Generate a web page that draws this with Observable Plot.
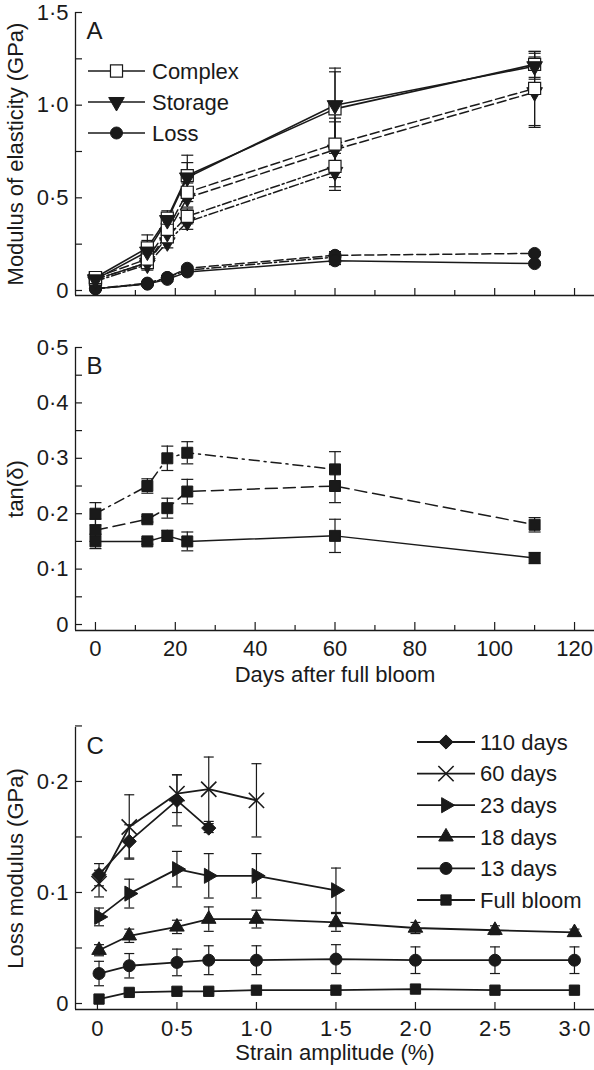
<!DOCTYPE html>
<html><head><meta charset="utf-8">
<script src="https://cdn.jsdelivr.net/npm/d3@7"></script>
<script src="https://cdn.jsdelivr.net/npm/@observablehq/plot@0.6"></script>
<style>
body{margin:0;background:#fff}
#chart{width:594px}
#chart svg{display:block}
</style>
</head><body><div id="chart"></div>
<script>
// ---------------- DATA ----------------
// Panel A – modulus of elasticity (GPa) vs days after full bloom
const daysA = [0, 13, 18, 23, 60, 110];
const daysA3 = [0, 13, 18, 23, 60];
const complex1 = [0.07, 0.23, 0.39, 0.62, 0.98, 1.22];
const complex1Err = [0.01, 0.07, 0.04, 0.11, 0.20, 0.07];
const storage1 = [0.06, 0.21, 0.38, 0.61, 1.00, 1.21];
const storage1Err = [0.01, 0.06, 0.03, 0.08, 0.20, 0.07];
const loss1 = [0.01, 0.035, 0.06, 0.10, 0.16, 0.145];
const loss1Err = [0.005, 0.005, 0.01, 0.01, 0.02, 0.01];
const complex2 = [0.07, 0.17, 0.33, 0.53, 0.79, 1.09];
const complex2Err = [0.01, 0.04, 0.04, 0.05, 0.14, 0.20];
const storage2 = [0.06, 0.15, 0.31, 0.50, 0.76, 1.07];
const storage2Err = [0.01, 0.03, 0.04, 0.05, 0.15, 0.19];
const loss2 = [0.01, 0.04, 0.07, 0.12, 0.19, 0.20];
const loss2Err = [0.005, 0.005, 0.01, 0.01, 0.02, 0.01];
const complex3 = [0.06, 0.15, 0.29, 0.40, 0.67];
const complex3Err = [0.01, 0.03, 0.03, 0.04, 0.11];
const storage3 = [0.05, 0.14, 0.26, 0.37, 0.64];
const storage3Err = [0.01, 0.03, 0.03, 0.04, 0.10];
const loss3 = [0.01, 0.035, 0.07, 0.11, 0.18];
const loss3Err = [0.005, 0.005, 0.01, 0.01, 0.02];
const legendA = ["Complex", "Storage", "Loss"];

// Panel B – tan(delta)
const tanSolid = [0.15, 0.15, 0.16, 0.15, 0.16, 0.12];
const tanSolidErr = [0.013, 0.005, 0.01, 0.017, 0.03, 0.01];
const tanDashed = [0.17, 0.19, 0.21, 0.24, 0.25, 0.18];
const tanDashedErr = [0.02, 0.005, 0.018, 0.022, 0.03, 0.013];
const tanDashDot = [0.20, 0.25, 0.30, 0.31, 0.28];
const tanDashDotErr = [0.02, 0.013, 0.022, 0.02, 0.032];

// Panel C – loss modulus (GPa) vs strain amplitude (%)
const strain = [0.01, 0.2, 0.5, 0.7, 1.0, 1.5, 2.0, 2.5, 3.0];
const legendC = ["110 days", "60 days", "23 days", "18 days", "13 days", "Full bloom"];
const loss110 = [0.116, 0.146, 0.183, 0.158];
const loss110Err = [0.01, 0.015, 0.023, 0.004];
const loss60 = [0.108, 0.159, 0.189, 0.193, 0.183];
const loss60Err = [0.012, 0.029, 0.017, 0.029, 0.033];
const loss23 = [0.078, 0.099, 0.121, 0.115, 0.115, 0.102];
const loss23Err = [0.008, 0.013, 0.016, 0.02, 0.02, 0.02];
const loss18 = [0.048, 0.061, 0.069, 0.076, 0.076, 0.073, 0.068, 0.066, 0.064];
const loss18Err = [0.005, 0.006, 0.006, 0.011, 0.008, 0.008, 0.005, 0.004, 0.003];
const loss13 = [0.027, 0.034, 0.037, 0.039, 0.039, 0.040, 0.039, 0.039, 0.039];
const loss13Err = [0.011, 0.011, 0.012, 0.013, 0.013, 0.013, 0.012, 0.012, 0.012];
const loss0 = [0.004, 0.010, 0.011, 0.011, 0.012, 0.012, 0.013, 0.012, 0.012];
const loss0Err = [0.004, 0.002, 0.002, 0.002, 0.002, 0.002, 0.002, 0.002, 0.002];

// Ticks
const yLabelsA = [0, 0.5, 1.0, 1.5];
const yTicksA = [0, 0.25, 0.5, 0.75, 1.0, 1.25, 1.5];
const yLabelsB = [0, 0.1, 0.2, 0.3, 0.4, 0.5];
const yTicksB = [0, 0.05, 0.1, 0.15, 0.2, 0.25, 0.3, 0.35, 0.4, 0.45, 0.5];
const xLabelsB = [0, 20, 40, 60, 80, 100, 120];
const xMinorB = [10, 30, 50, 70, 90, 110];
const yLabelsC = [0, 0.1, 0.2];
const yTicksC = [0, 0.05, 0.1, 0.15, 0.2, 0.25];
const xLabelsC = [0, 0.5, 1.0, 1.5, 2.0, 2.5, 3.0];

// ---------------- HELPERS ----------------
const ink = "#1a1a1a";
const font = "'Liberation Sans', Arial, Helvetica, sans-serif";
const fmtDot = d => d === 0 ? "0" : d3.format(".1f")(d).replace(".", "\u00B7");
const cap = w => ({draw(ctx){ ctx.moveTo(-w, 0); ctx.lineTo(w, 0); }});
const toRows = (xs, ys, es) => ys.map((y, i) => ({x: xs[i], y, lo: y - es[i], hi: y + es[i]}));

function seriesLayers(list, capW, errW) {
  const err = [], lines = [], dots = [];
  for (const s of list) {
    err.push(Plot.ruleX(s.data, {x: "x", y1: "lo", y2: "hi", stroke: ink, strokeWidth: errW}));
    err.push(Plot.dot(s.data, {x: "x", y: "lo", symbol: cap(capW), r: 1, stroke: ink, strokeWidth: errW, fill: "none"}));
    err.push(Plot.dot(s.data, {x: "x", y: "hi", symbol: cap(capW), r: 1, stroke: ink, strokeWidth: errW, fill: "none"}));
    lines.push(Plot.line(s.data, {x: "x", y: "y", stroke: ink, strokeWidth: s.sw, strokeDasharray: s.dash}));
    dots.push(Plot.dot(s.data, {x: "x", y: "y", symbol: s.symbol, r: s.r, fill: s.fill,
      stroke: ink, strokeWidth: s.strokeWidth ?? 1, rotate: s.rotate ?? 0}));
  }
  return [...err, ...lines, ...dots];
}

function frameAxes({xDomain, yDomain, xMajor, xMajorLen, xMinor, xMinorLen, xLabels, xFormat, xPad, yTicks, yLabels}) {
  const m = [
    Plot.ruleX([xDomain[0]], {stroke: ink, strokeWidth: 1.3}),
    Plot.ruleY([yDomain[0]], {stroke: ink, strokeWidth: 1.3}),
    Plot.axisY(yTicks, {tickSize: 7, dx: 7, fill: "none", stroke: ink, strokeWidth: 1.2, label: null}),
    Plot.axisY(yLabels, {tickSize: 0, tickPadding: 7, tickFormat: fmtDot, fill: ink, label: null}),
    Plot.axisX(xMajor, {tickSize: xMajorLen, dy: -xMajorLen, fill: "none", stroke: ink, strokeWidth: 1.2, label: null})
  ];
  if (xMinor) m.push(Plot.axisX(xMinor, {tickSize: xMinorLen, dy: -xMinorLen, fill: "none", stroke: ink, strokeWidth: 1.2, label: null}));
  if (xLabels) m.push(Plot.axisX(xLabels, {tickSize: 0, tickPadding: xPad, tickFormat: xFormat, fill: ink, label: null}));
  return m;
}

const letterMark = (t) => Plot.text([t], {text: d => d, frameAnchor: "top-left", dx: 11, dy: 9,
  fontSize: 24, textAnchor: "start", lineAnchor: "top", fill: ink});
const yTitleMark = (t) => Plot.text([t], {text: d => d, frameAnchor: "left", rotate: -90, dx: -60,
  textAnchor: "middle", lineAnchor: "middle", fontSize: 22, fill: ink});
const xTitleMark = (t, dy) => Plot.text([t], {text: d => d, frameAnchor: "bottom", dy,
  textAnchor: "middle", lineAnchor: "top", fontSize: 22, fill: ink});

const baseStyle = {fontFamily: font, fontSize: "22px", color: ink, background: "white", overflow: "visible"};

function drawLegend(svg, items, {x0, x1, tx, y0, step}) {
  const g = d3.select(svg).append("g").attr("font-family", font).attr("font-size", 22)
    .attr("fill", ink).attr("text-anchor", "start");
  items.forEach((it, i) => {
    const y = y0 + i * step, mx = (x0 + x1) / 2;
    g.append("line").attr("x1", x0).attr("x2", x1).attr("y1", y).attr("y2", y)
      .attr("stroke", ink).attr("stroke-width", it.sw);
    g.append("path")
      .attr("d", d3.symbol().type(it.type).size(Math.PI * it.r * it.r)())
      .attr("transform", `translate(${mx},${y}) rotate(${it.rotate || 0})`)
      .attr("fill", it.fill).attr("stroke", ink).attr("stroke-width", it.strokeWidth ?? 1);
    g.append("text").attr("x", tx).attr("y", y).attr("dy", "0.35em")
      .attr("text-anchor", "start").text(it.label);
  });
}

const chart = document.getElementById("chart");

// ---------------- PANEL A ----------------
const dash = "9,4", dashDot = "9,3,2,3";
const xDomainAB = [-5, 125];
const yDomainA = [-0.027, 1.5];
const sq = {symbol: "square", r: 6.8, fill: "white", strokeWidth: 1.2};
const tri = {symbol: "triangle", r: 5.8, fill: ink, rotate: 180};
const circ = {symbol: "circle", r: 6, fill: ink};
const seriesA = [
  {data: toRows(daysA3, loss3, loss3Err), dash: dashDot, sw: 1.5, ...circ},
  {data: toRows(daysA, loss2, loss2Err), dash, sw: 1.5, ...circ},
  {data: toRows(daysA, loss1, loss1Err), sw: 1.5, ...circ},
  {data: toRows(daysA3, storage3, storage3Err), dash: dashDot, sw: 1.5, ...tri},
  {data: toRows(daysA3, complex3, complex3Err), dash: dashDot, sw: 1.5, ...sq},
  {data: toRows(daysA, storage2, storage2Err), dash, sw: 1.5, ...tri},
  {data: toRows(daysA, complex2, complex2Err), dash, sw: 1.5, ...sq},
  {data: toRows(daysA, complex1, complex1Err), sw: 1.6, ...sq},
  {data: toRows(daysA, storage1, storage1Err), sw: 1.6, ...tri}
];
const svgA = Plot.plot({
  width: 594, height: 325, marginLeft: 75, marginRight: 0, marginTop: 12, marginBottom: 30,
  style: baseStyle,
  x: {domain: xDomainAB, label: null},
  y: {domain: yDomainA, label: null},
  marks: [
    ...frameAxes({xDomain: xDomainAB, yDomain: yDomainA, xMajor: xLabelsB, xMajorLen: 7,
      xMinor: xMinorB, xMinorLen: 5, yTicks: yTicksA, yLabels: yLabelsA}),
    ...seriesLayers(seriesA, 6, 1.2),
    letterMark("A"),
    yTitleMark("Modulus of elasticity (GPa)")
  ]
});
drawLegend(svgA, [
  {label: legendA[0], type: d3.symbolSquare, r: 6.8, fill: "white", sw: 1.5, strokeWidth: 1.2},
  {label: legendA[1], type: d3.symbolTriangle, r: 5.8, fill: ink, sw: 1.5, rotate: 180},
  {label: legendA[2], type: d3.symbolCircle, r: 6, fill: ink, sw: 1.5}
], {x0: 88, x1: 145, tx: 152, y0: 71, step: 31});
chart.appendChild(svgA);

// ---------------- PANEL B ----------------
const yDomainB = [-0.0108, 0.5];
const sqB = {symbol: "square", r: 6.2, fill: ink};
const seriesB = [
  {data: toRows(daysA, tanSolid, tanSolidErr), sw: 1.5, ...sqB},
  {data: toRows(daysA, tanDashed, tanDashedErr), dash: "12,6", sw: 1.5, ...sqB},
  {data: toRows(daysA3, tanDashDot, tanDashDotErr), dash: "10,5,2,5", sw: 1.5, ...sqB}
];
const svgB = Plot.plot({
  width: 594, height: 365, marginLeft: 75, marginRight: 0, marginTop: 22, marginBottom: 60,
  style: baseStyle,
  x: {domain: xDomainAB, label: null},
  y: {domain: yDomainB, label: null},
  marks: [
    ...frameAxes({xDomain: xDomainAB, yDomain: yDomainB, xMajor: xLabelsB, xMajorLen: 8,
      xMinor: xMinorB, xMinorLen: 5, xLabels: xLabelsB, xFormat: d3.format("d"), xPad: 10,
      yTicks: yTicksB, yLabels: yLabelsB}),
    ...seriesLayers(seriesB, 6, 1.2),
    letterMark("B"),
    yTitleMark("tan(\u03B4)"),
    xTitleMark("Days after full bloom", 36)
  ]
});
chart.appendChild(svgB);

// ---------------- PANEL C ----------------
const xDomainC = [-0.138, 3.126];
const yDomainC = [-0.0054, 0.2486];
const symC = [
  {symbol: "diamond2", r: 6.4, fill: ink, type: d3.symbolDiamond2},
  {symbol: "times", r: 7, fill: "none", strokeWidth: 1.6, type: d3.symbolTimes},
  {symbol: "triangle", r: 5.6, fill: ink, rotate: 90, type: d3.symbolTriangle},
  {symbol: "triangle", r: 5.4, fill: ink, type: d3.symbolTriangle},
  {symbol: "circle", r: 6, fill: ink, type: d3.symbolCircle},
  {symbol: "square", r: 5.8, fill: ink, type: d3.symbolSquare}
];
const valsC = [loss110, loss60, loss23, loss18, loss13, loss0];
const errsC = [loss110Err, loss60Err, loss23Err, loss18Err, loss13Err, loss0Err];
const seriesC = valsC.map((v, i) => ({data: toRows(strain, v, errsC[i]), sw: 1.8,
  symbol: symC[i].symbol, r: symC[i].r, fill: symC[i].fill, rotate: symC[i].rotate,
  strokeWidth: symC[i].strokeWidth})).reverse();
const svgC = Plot.plot({
  width: 594, height: 380, marginLeft: 75, marginRight: 0, marginTop: 37, marginBottom: 61,
  style: baseStyle,
  x: {domain: xDomainC, label: null},
  y: {domain: yDomainC, label: null},
  marks: [
    ...frameAxes({xDomain: xDomainC, yDomain: yDomainC, xMajor: xLabelsC, xMajorLen: 7,
      xLabels: xLabelsC, xFormat: fmtDot, xPad: 11, yTicks: yTicksC, yLabels: yLabelsC}),
    ...seriesLayers(seriesC, 5, 1.2),
    letterMark("C"),
    yTitleMark("Loss modulus (GPa)"),
    xTitleMark("Strain amplitude (%)", 35)
  ]
});
drawLegend(svgC, legendC.map((label, i) => ({label, type: symC[i].type, r: symC[i].r,
  fill: symC[i].fill, rotate: symC[i].rotate, strokeWidth: symC[i].strokeWidth, sw: 1.8})),
  {x0: 417, x1: 475, tx: 480, y0: 52, step: 31.6});
chart.appendChild(svgC);
</script>
</body></html>
